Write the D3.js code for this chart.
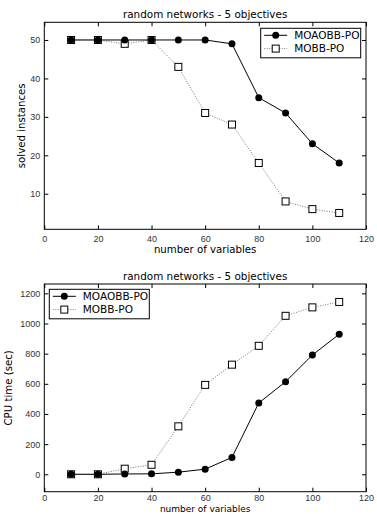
<!DOCTYPE html>
<html>
<head>
<meta charset="utf-8">
<script src="https://cdn.jsdelivr.net/npm/d3@7"></script>
<style>
  body { margin: 0; background: #fff; }
  svg { display: block; font-family: "DejaVu Sans", sans-serif; }
</style>
</head>
<body>
<div id="chart"></div>
<script>
// number of variables (shared x values)
let variables = [10, 20, 30, 40, 50, 60, 70, 80, 90, 100, 110];

// top panel: solved instances
let solvedMoaobb = [50, 50, 50, 50, 50, 50, 49, 35, 31, 23, 18];
let solvedMobb = [50, 50, 49, 50, 43, 31, 28, 18, 8, 6, 5];

// bottom panel: CPU time (sec)
let cpuMoaobb = [0, 0, 2, 3, 14, 34, 112, 473, 614, 791, 929];
let cpuMobb = [0, 0, 37, 63, 318, 593, 727, 852, 1051, 1107, 1143];

let xTicks = [0, 20, 40, 60, 80, 100, 120];
let solvedTicks = [10, 20, 30, 40, 50];
let cpuTicks = [0, 200, 400, 600, 800, 1000, 1200];

let width = 377,
    height = 514;

let svg = d3.select("#chart")
    .append("svg")
    .attr("width", width)
    .attr("height", height);

// draws one matplotlib-style panel
function panel(opts) {
    let x = d3.scaleLinear().domain([0, 120]).range([44.3, 366]);
    let y = d3.scaleLinear().domain(opts.yDomain).range([opts.bottom, opts.top]);
    let g = svg.append("g");

    // ticks inward on all sides
    let tl = 4;
    g.append("g")
        .attr("transform", `translate(0, ${opts.bottom})`)
        .call(d3.axisBottom(x).tickValues(xTicks).tickSize(-tl).tickPadding(opts.xPad).tickFormat(d3.format("d")))
        .call(ax => ax.select(".domain").remove())
        .call(ax => ax.selectAll("text").attr("font-size", 9).attr("fill", "#333"));
    g.append("g")
        .attr("transform", `translate(0, ${opts.top})`)
        .call(d3.axisTop(x).tickValues(xTicks).tickSize(-tl).tickFormat(""))
        .call(ax => ax.select(".domain").remove());
    g.append("g")
        .attr("transform", `translate(44.3, 0)`)
        .call(d3.axisLeft(y).tickValues(opts.yTicks).tickSize(-tl).tickPadding(4).tickFormat(d3.format("d")))
        .call(ax => ax.select(".domain").remove())
        .call(ax => ax.selectAll("text").attr("font-size", 9).attr("fill", "#333"));
    g.append("g")
        .attr("transform", `translate(366, 0)`)
        .call(d3.axisRight(y).tickValues(opts.yTicks).tickSize(-tl).tickFormat(""))
        .call(ax => ax.select(".domain").remove());

    g.append("rect")
        .attr("x", 44.3).attr("y", opts.top)
        .attr("width", 366 - 44.3).attr("height", opts.bottom - opts.top)
        .attr("fill", "none").attr("stroke", "#000").attr("stroke-width", 1);

    let line = d3.line()
        .x((d, i) => x(variables[i]))
        .y(d => y(d));

    // MOBB-PO dotted with open squares
    g.append("path")
        .datum(opts.mobb)
        .attr("d", line)
        .attr("fill", "none")
        .attr("stroke", "#555")
        .attr("stroke-width", 0.8)
        .attr("stroke-dasharray", "1,1.5");
    g.selectAll(".sq")
        .data(opts.mobb)
        .enter()
        .append("rect")
        .attr("x", (d, i) => x(variables[i]) - 3.5)
        .attr("y", d => y(d) - 3.5)
        .attr("width", 7).attr("height", 7)
        .attr("fill", "#fff").attr("stroke", "#000").attr("stroke-width", 1);

    // MOAOBB-PO solid with filled circles
    g.append("path")
        .datum(opts.moaobb)
        .attr("d", line)
        .attr("fill", "none")
        .attr("stroke", "#000")
        .attr("stroke-width", 1);
    g.selectAll(".dot")
        .data(opts.moaobb)
        .enter()
        .append("circle")
        .attr("cx", (d, i) => x(variables[i]))
        .attr("cy", d => y(d))
        .attr("r", 3.5)
        .attr("fill", "#000");

    // title and labels
    g.append("text")
        .attr("x", (44.3 + 366) / 2).attr("y", opts.top - 4)
        .attr("text-anchor", "middle").attr("font-size", 10.4)
        .text("random networks - 5 objectives");
    g.append("text")
        .attr("x", (44.3 + 366) / 2).attr("y", opts.xlabelY)
        .attr("text-anchor", "middle").attr("font-size", opts.xlabelSize)
        .text("number of variables");
    g.append("text")
        .attr("transform", `translate(${opts.ylabelX}, ${(opts.top + opts.bottom) / 2}) rotate(-90)`)
        .attr("text-anchor", "middle").attr("font-size", 10.2)
        .text(opts.ylabel);

    // legend
    let lg = g.append("g").attr("transform", `translate(${opts.legend[0]}, ${opts.legend[1]})`);
    lg.append("rect")
        .attr("width", 100).attr("height", 29.5)
        .attr("fill", "#fff").attr("stroke", "#000").attr("stroke-width", 1);
    let rows = [
        {name: "MOAOBB-PO", dash: null, filled: true},
        {name: "MOBB-PO", dash: "1,1.5", filled: false}
    ];
    rows.forEach((r, i) => {
        let cy = 7 + i * 13.3;
        lg.append("line")
            .attr("x1", 3.5).attr("x2", 26.5).attr("y1", cy).attr("y2", cy)
            .attr("stroke", r.filled ? "#000" : "#555")
            .attr("stroke-width", r.filled ? 1 : 0.8)
            .attr("stroke-dasharray", r.dash);
        if (r.filled) {
            lg.append("circle").attr("cx", 15).attr("cy", cy).attr("r", 3.5).attr("fill", "#000");
        } else {
            lg.append("rect").attr("x", 11.5).attr("y", cy - 3.5).attr("width", 7).attr("height", 7)
                .attr("fill", "#fff").attr("stroke", "#000");
        }
        lg.append("text")
            .attr("x", 33.5).attr("y", cy + 3.7)
            .attr("font-size", 10.5)
            .text(r.name);
    });
}

panel({
    top: 22.3, bottom: 229.3,
    yDomain: [0.75, 54.6], yTicks: solvedTicks,
    moaobb: solvedMoaobb, mobb: solvedMobb,
    ylabel: "solved instances", ylabelX: 25,
    xPad: 6, xlabelY: 252.5, xlabelSize: 10.2,
    legend: [260.7, 28.3]
});

panel({
    top: 284, bottom: 491.7,
    yDomain: [-115.5, 1262], yTicks: cpuTicks,
    moaobb: cpuMoaobb, mobb: cpuMobb,
    ylabel: "CPU time (sec)", ylabelX: 12,
    xPad: 3, xlabelY: 511.8, xlabelSize: 9,
    legend: [49.3, 289.3]
});
</script>
</body>
</html>
